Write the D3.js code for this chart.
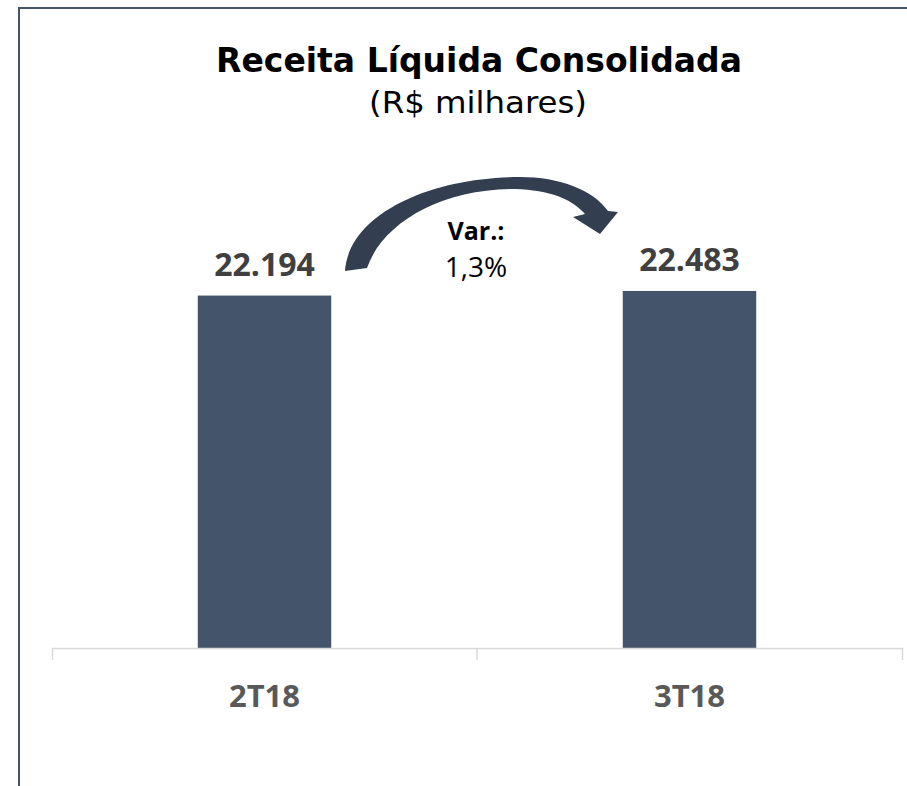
<!DOCTYPE html>
<html>
<head>
<meta charset="utf-8">
<script src="https://cdn.jsdelivr.net/npm/d3@7"></script>
<style>
  html, body { margin: 0; padding: 0; background: #fff; }
  svg { display: block; }
</style>
</head>
<body>
<svg id="chart" width="907" height="786"></svg>
<script>
// data
const categories = ['2T18', '3T18'];
const values = [22194, 22483];
const titleText = 'Receita Líquida Consolidada';
const subtitleText = '(R$ milhares)';

const width = 907;
const height = 786;

var glue = {
  left: 52,
  right: 5,
  top: 290,
  bottom: 138
};

const ptBR = d3.formatLocale({
  decimal: ',',
  thousands: '.',
  grouping: [3],
  currency: ['R$ ', '']
});
const fmtValue = ptBR.format(',d');
const fmtPct = ptBR.format(',.1%');

const svg = d3.select('#chart');

// frame: lines on left and top, like the clipped slide box
svg.append('path')
  .attr('d', 'M19,' + height + 'V8H' + width)
  .attr('fill', 'none')
  .attr('stroke', '#44546A')
  .attr('stroke-width', 2);

// title + subtitle, squeezed to the width of the original (narrower) font
svg.append('text')
  .attr('x', 479)
  .attr('y', 72)
  .attr('text-anchor', 'middle')
  .attr('font-family', 'DejaVu Sans')
  .attr('font-weight', 'bold')
  .attr('font-size', 33)
  .attr('textLength', 526)
  .attr('lengthAdjust', 'spacingAndGlyphs')
  .attr('fill', '#000')
  .text(titleText);

svg.append('text')
  .attr('x', 478)
  .attr('y', 113)
  .attr('text-anchor', 'middle')
  .attr('font-family', 'DejaVu Sans')
  .attr('font-size', 31)
  .attr('textLength', 218)
  .attr('lengthAdjust', 'spacingAndGlyphs')
  .attr('fill', '#000')
  .text(subtitleText);

// scales
const baseY = 648;
const x = d3.scaleBand()
  .domain(categories)
  .range([glue.left, width - glue.right])
  .padding(0);
const y = d3.scaleLinear()
  .domain([0, 25000])
  .range([baseY, baseY - 397]);

const barW = x.bandwidth() * 0.314;

svg.selectAll('rect.bar')
  .data(values)
  .enter()
  .append('rect')
  .attr('class', 'bar')
  .attr('x', (d, i) => x(categories[i]) + x.bandwidth() / 2 - barW / 2)
  .attr('y', d => y(d))
  .attr('width', barW)
  .attr('height', d => y(0) - y(d))
  .attr('fill', '#44546A');

// value labels
svg.selectAll('text.value')
  .data(values)
  .enter()
  .append('text')
  .attr('class', 'value')
  .attr('x', (d, i) => x(categories[i]) + x.bandwidth() / 2)
  .attr('y', d => y(d) - 20)
  .attr('text-anchor', 'middle')
  .attr('font-family', 'Open Sans')
  .attr('font-weight', 'bold')
  .attr('font-size', 32)
  .attr('fill', '#404040')
  .text(d => fmtValue(d));

// category axis
const xAxis = d3.axisBottom(x)
  .tickSizeInner(0)
  .tickSizeOuter(12)
  .tickPadding(37);
const axisG = svg.append('g')
  .attr('transform', 'translate(0,' + baseY + ')')
  .call(xAxis);
axisG.select('.domain')
  .attr('stroke', '#D9D9D9')
  .attr('stroke-width', 1.5);
axisG.selectAll('.tick text')
  .attr('font-family', 'Open Sans')
  .attr('font-weight', 'bold')
  .attr('font-size', 31)
  .attr('fill', '#595959');
// boundary ticks between categories
axisG.selectAll('line.sep')
  .data(categories.slice(1))
  .enter()
  .append('line')
  .attr('class', 'sep')
  .attr('x1', d => x(d))
  .attr('x2', d => x(d))
  .attr('y1', 0)
  .attr('y2', 12)
  .attr('stroke', '#D9D9D9')
  .attr('stroke-width', 1.5);

// curved variation arrow
svg.append('path')
  .attr('d',
    'M345,271' +
    'C349,214 430,177 520,177' +
    'C560,177 593,190 608,211' +
    'L618,212 L600,234 L573,217 L585,214' +
    'C572,199 550,190 515,189' +
    'C442,189 383,222 367,268Z')
  .attr('fill', '#333F50');

const midX = 476;
svg.append('text')
  .attr('x', midX)
  .attr('y', 240)
  .attr('text-anchor', 'middle')
  .attr('font-family', 'Open Sans')
  .attr('font-weight', 'bold')
  .attr('font-size', 25)
  .attr('fill', '#000')
  .text('Var.:');
svg.append('text')
  .attr('x', midX)
  .attr('y', 277)
  .attr('text-anchor', 'middle')
  .attr('font-family', 'Open Sans')
  .attr('font-size', 28)
  .attr('fill', '#000')
  .text(fmtPct(values[1] / values[0] - 1));
</script>
</body>
</html>
